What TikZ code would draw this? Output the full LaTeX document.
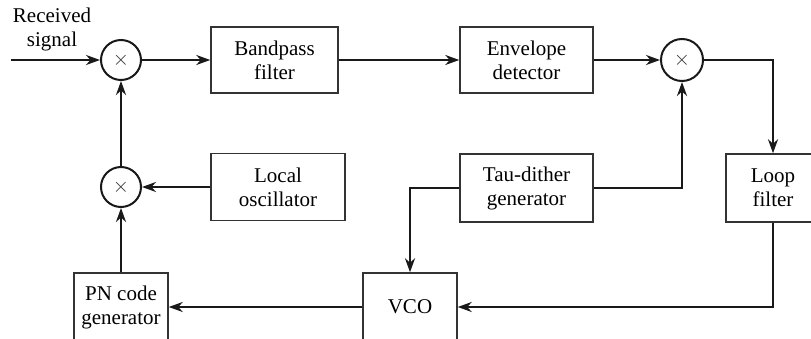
\documentclass[tikz,border=0pt]{standalone}
\usepackage{fontspec}
\setmainfont{Liberation Serif}
\usetikzlibrary{arrows.meta}
\begin{document}
\begin{tikzpicture}[x=1pt,y=-1pt,
  txt/.style={font=\fontsize{21}{24}\selectfont, align=center, text=black},
  blk/.style={txt, draw=black!80, line width=1.5pt, rectangle, inner sep=0pt},
  mult/.style={draw=black!90, line width=2pt, circle, inner sep=0pt, minimum size=40pt,
    font=\fontsize{22}{24}\selectfont, text=black!80},
  conn/.style={draw=black!90, line width=2.8pt, -{Stealth[length=14pt,width=10pt]}}]
\useasboundingbox (0,0) rectangle (811,339);
\clip (0,0) rectangle (811,339);

\node[mult] (m1) at (121,60) {$\times$};
\node[mult] (m2) at (121,187) {$\times$};
\node[mult, minimum size=42pt] (m3) at (682,60) {$\times$};

\node[blk, minimum width=127pt, minimum height=66pt] (bp) at (274.5,60) {Bandpass\\filter};
\node[blk, minimum width=133pt, minimum height=66pt] (env) at (526.5,60) {Envelope\\detector};
\node[blk, minimum width=134pt, minimum height=67pt] (lo) at (278,187) {Local\\oscillator};
\node[blk, minimum width=133pt, minimum height=68pt] (tau) at (526.5,188) {Tau-dither\\generator};
\node[blk, minimum width=94pt, minimum height=68pt] (loop) at (773,188) {Loop\\filter};
\node[blk, minimum width=94pt, minimum height=68pt] (vco) at (410,307) {VCO};
\node[blk, minimum width=94pt, minimum height=68pt] (pn) at (121,307) {PN code\\generator};

\node[txt] (rl) at (52,29) {Received\\signal};
\coordinate (in) at (11,60);

\draw[conn] (in) -- (m1.west);
\draw[conn] (m1.east) -- (bp.west);
\draw[conn] (bp.east) -- (env.west);
\draw[conn] (env.east) -- (m3.west);
\draw[conn] (m3.east) -| (loop.north);
\draw[conn] (loop.south) |- (vco.east);
\draw[conn] (vco.west) -- (pn.east);
\draw[conn] (pn.north) -- (m2.south);
\draw[conn] (m2.north) -- (m1.south);
\draw[conn] (lo.west) -- (m2.east);
\draw[conn] (tau.west) -| (vco.north);
\draw[conn] (tau.east) -| (m3.south);
\end{tikzpicture}
\end{document}
